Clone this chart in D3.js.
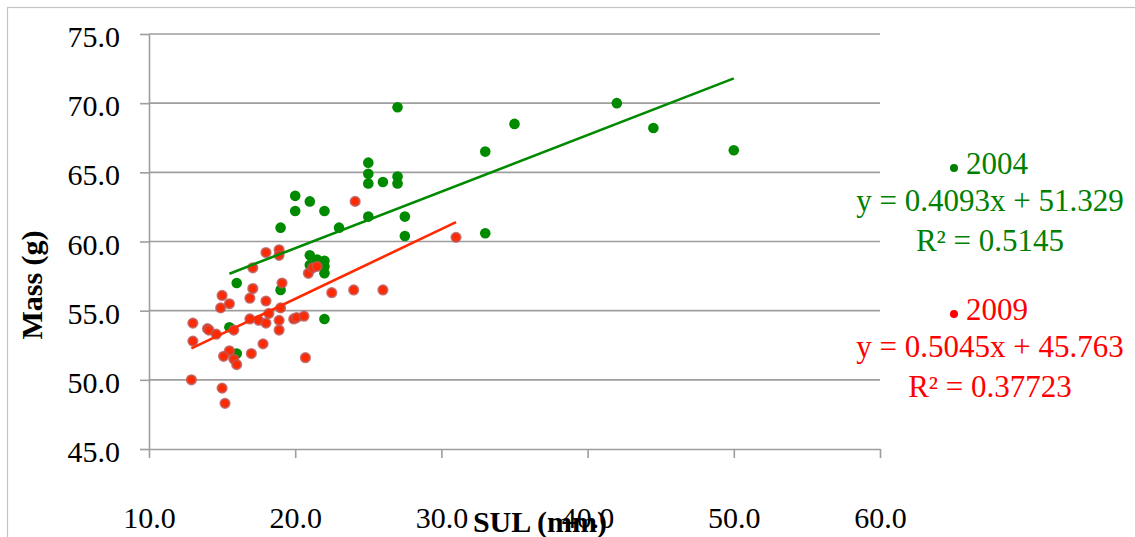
<!DOCTYPE html>
<html>
<head>
<meta charset="utf-8">
<script src="https://cdn.jsdelivr.net/npm/d3@7"></script>
<style>
  body { margin: 0; background: #fff; }
  svg { display: block; }
</style>
</head>
<body>
<div id="chart"></div>
<script>
// dati: SUL (mm) e massa (g)
const sul2004 = [27.0, 42.0, 35.0, 44.5, 50.0, 33.0, 25.0, 25.0, 25.0, 26.0, 27.0, 27.0,
  20.0, 21.0, 20.0, 22.0, 25.0, 27.5, 23.0, 19.0, 27.5, 33.0, 21.0, 21.5, 22.0, 21.0,
  22.0, 22.0, 16.0, 19.0, 22.0, 16.0, 15.5];
const mass2004 = [69.7, 70.0, 68.5, 68.2, 66.6, 66.5, 65.7, 64.9, 64.2, 64.3, 64.7, 64.2,
  63.3, 62.9, 62.2, 62.2, 61.8, 61.8, 61.0, 61.0, 60.4, 60.6, 59.0, 58.7, 58.6, 58.3,
  58.2, 57.7, 57.0, 56.5, 54.4, 51.9, 53.8];

const sul2009 = [24.1, 31.0, 18.0, 18.9, 18.9, 17.1, 20.9, 21.2, 21.5, 19.1, 22.5, 24.0,
  26.0, 17.1, 15.0, 16.9, 15.5, 18.0, 14.9, 19.0, 18.2, 13.0, 16.9, 17.5, 18.0, 18.9,
  14.0, 14.1, 14.6, 15.8, 18.9, 19.9, 20.1, 20.6, 13.0, 17.8, 15.5, 15.1, 15.8, 16.0,
  17.0, 20.7, 12.9, 15.0, 15.2];
const mass2009 = [62.9, 60.3, 59.2, 59.4, 59.0, 58.1, 57.7, 58.1, 58.2, 57.0, 56.3, 56.5,
  56.5, 56.6, 56.1, 55.9, 55.5, 55.7, 55.2, 55.2, 54.8, 54.1, 54.4, 54.3, 54.1, 54.3,
  53.7, 53.6, 53.3, 53.6, 53.6, 54.4, 54.5, 54.6, 52.8, 52.6, 52.1, 51.7, 51.5, 51.1,
  51.9, 51.6, 50.0, 49.4, 48.3];

// coefficienti delle rette di tendenza (dalla legenda)
const seriesNames = ["2004", "2009"];
const slopes = [0.4093, 0.5045];
const intercepts = [51.329, 45.763];
const r2Labels = ["0.5145", "0.37723"];

const xTicks = [10, 20, 30, 40, 50, 60];
const yTicks = [45, 50, 55, 60, 65, 70, 75];

const width = 1135, height = 537;
const font = "'Liberation Serif', 'Times New Roman', serif";

const svg = d3.select("#chart").append("svg")
  .attr("width", width)
  .attr("height", height)
  .attr("font-family", font);

// bordo esterno
svg.append("rect")
  .attr("x", 7.5).attr("y", 7.5)
  .attr("width", 1140).attr("height", 560)
  .attr("fill", "none")
  .attr("stroke", "#c4c4c4")
  .attr("stroke-width", 1.2);

const x = d3.scaleLinear().domain([10, 60]).range([149, 880]);
const y = d3.scaleLinear().domain([45, 75]).range([449, 34]);

// griglia orizzontale
svg.append("g")
  .selectAll("line")
  .data(yTicks.slice(1))
  .join("line")
  .attr("x1", x(10)).attr("x2", x(60))
  .attr("y1", d => y(d)).attr("y2", d => y(d))
  .attr("stroke", "#9e9e9e")
  .attr("stroke-width", 1.6);

// asse y
const yAxis = svg.append("g")
  .attr("transform", `translate(${x(10)},0)`)
  .call(d3.axisLeft(y).tickValues(yTicks).tickSize(9).tickSizeOuter(0).tickFormat(d3.format(".1f")))
  .attr("font-family", font)
  .attr("font-size", 30);
yAxis.select(".domain").attr("stroke", "#9e9e9e").attr("stroke-width", 1.6);
yAxis.selectAll(".tick line").attr("stroke", "#9e9e9e").attr("stroke-width", 1.6);
yAxis.selectAll(".tick text")
  .attr("x", -29)
  .attr("dy", "0.42em")
  .attr("fill", "#000");

// asse x
const xAxis = svg.append("g")
  .attr("transform", `translate(0,${y(45)})`)
  .call(d3.axisBottom(x).tickValues(xTicks).tickSize(9).tickSizeOuter(0).tickFormat(d3.format(".1f")))
  .attr("font-family", font)
  .attr("font-size", 30);
xAxis.select(".domain").attr("stroke", "#9e9e9e").attr("stroke-width", 1.6);
xAxis.selectAll(".tick line").attr("stroke", "#9e9e9e").attr("stroke-width", 1.6);
xAxis.selectAll(".tick text")
  .attr("y", 79)
  .attr("dy", 0)
  .attr("fill", "#000");

// titoli assi
svg.append("text")
  .attr("x", 540).attr("y", 532)
  .attr("text-anchor", "middle")
  .attr("font-size", 30)
  .attr("font-weight", "bold")
  .text("SUL (mm)");

svg.append("text")
  .attr("transform", "translate(42,285) rotate(-90)")
  .attr("text-anchor", "middle")
  .attr("font-size", 30)
  .attr("font-weight", "bold")
  .text("Mass (g)");

// punti 2004
svg.append("g")
  .selectAll("circle")
  .data(d3.zip(sul2004, mass2004))
  .join("circle")
  .attr("cx", d => x(d[0]))
  .attr("cy", d => y(d[1]))
  .attr("r", 5.3)
  .attr("fill", "#008a00");

// punti 2009
svg.append("g")
  .selectAll("circle")
  .data(d3.zip(sul2009, mass2009))
  .join("circle")
  .attr("cx", d => x(d[0]))
  .attr("cy", d => y(d[1]))
  .attr("r", 4.6)
  .attr("fill", "#ff2a00")
  .attr("stroke", "rgba(190,85,85,0.8)")
  .attr("stroke-width", 2);

// rette di tendenza
const xs = [sul2004, sul2009];
const lineColors = ["#008a00", "#ff2a00"];
seriesNames.forEach((name, i) => {
  const [x0, x1] = d3.extent(xs[i]);
  svg.append("line")
    .attr("x1", x(x0)).attr("y1", y(slopes[i] * x0 + intercepts[i]))
    .attr("x2", x(x1)).attr("y2", y(slopes[i] * x1 + intercepts[i]))
    .attr("stroke", lineColors[i])
    .attr("stroke-width", 2.6);
});

// legenda
const legColors = ["#008000", "#ff0000"];
const legTop = [174, 320];
seriesNames.forEach((name, i) => {
  const g = svg.append("g").attr("fill", legColors[i]).attr("font-size", 31);
  g.append("circle")
    .attr("cx", 954).attr("cy", legTop[i] - 6)
    .attr("r", 4);
  g.append("text")
    .attr("x", 966).attr("y", legTop[i])
    .text(name);
  g.append("text")
    .attr("x", 990).attr("y", legTop[i] + 37)
    .attr("text-anchor", "middle")
    .text(`y = ${slopes[i]}x + ${intercepts[i]}`);
  g.append("text")
    .attr("x", 990).attr("y", legTop[i] + 77)
    .attr("text-anchor", "middle")
    .text(`R² = ${r2Labels[i]}`);
});
</script>
</body>
</html>
